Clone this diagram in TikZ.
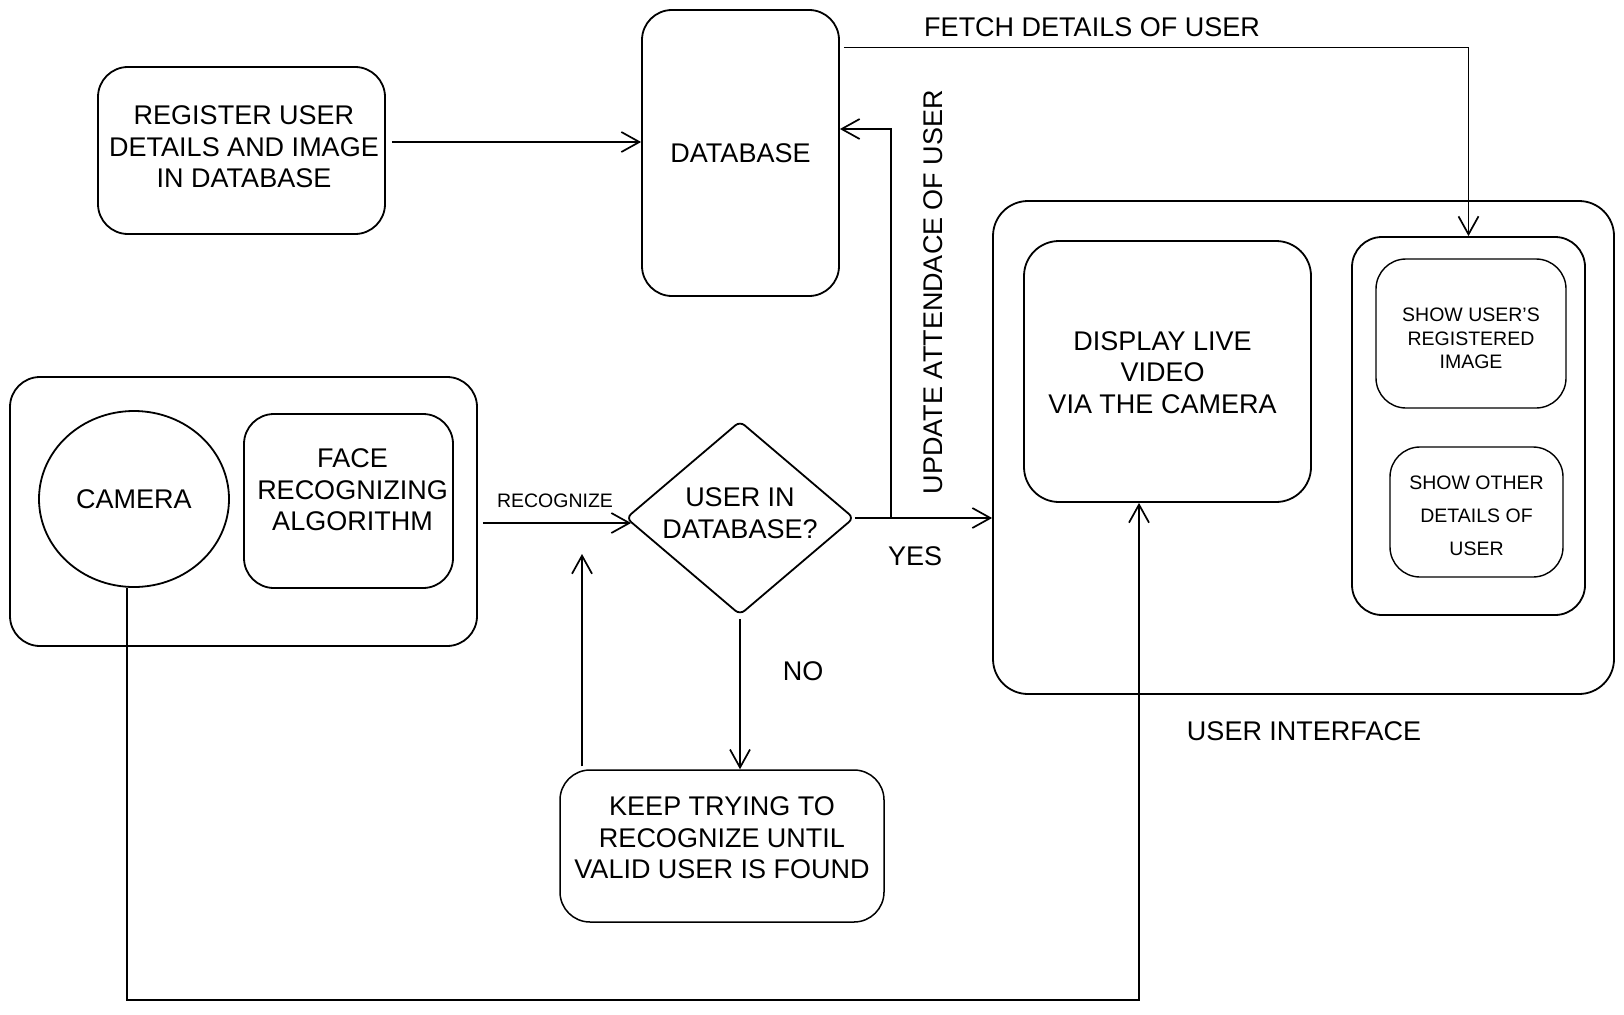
\documentclass[tikz,border=0pt]{standalone}
\usepackage{fontspec}
\setmainfont{Liberation Sans}
\usetikzlibrary{arrows.meta,shapes.geometric}
\begin{document}
\begin{tikzpicture}[x=1pt,y=-1pt,
  big/.style={font=\fontsize{27}{31.5}\selectfont},
  box/.style={draw,rounded corners=30pt,line width=1.8pt,inner sep=0pt,align=center,big},
  smalltxt/.style={font=\fontsize{19.5}{23.3}\selectfont},
  arr/.style={line width=1.7pt,-{Straight Barb[length=18pt,width=20pt,line width=1.7pt]}},
  ln/.style={line width=1.7pt}
]
\useasboundingbox (0,0) rectangle (1624,1014);

% containers
\node[box,minimum width=621pt,minimum height=493pt,rounded corners=35pt] (ui) at (1303.5,447.5) {};
\node[box,minimum width=467pt,minimum height=269pt] (lc) at (243.5,511.5) {};
\node[box,minimum width=233pt,minimum height=378pt] (rc) at (1468.5,426) {};

% boxes
\node[box,minimum width=287pt,minimum height=167pt,
  label={[big,align=center,yshift=3.5pt,xshift=2.5pt]center:{REGISTER USER\\DETAILS AND IMAGE\\IN DATABASE}}] (reg) at (241.5,150.5) {};
\node[box,minimum width=197pt,minimum height=286pt] (db) at (740.5,153) {DATABASE};
\node[box,minimum width=287pt,minimum height=261pt,rounded corners=35pt,
  label={[big,align=center,xshift=-5pt,yshift=-1pt]center:{DISPLAY LIVE\\VIDEO\\VIA THE CAMERA}}] (disp) at (1167.5,371.5) {};
\node[box,line width=1.4pt,minimum width=190pt,minimum height=149pt,
  label={[smalltxt,align=center,yshift=-5pt]center:{SHOW USER'S\\REGISTERED\\IMAGE}}] (img) at (1471,333.5) {};
\node[box,line width=1.4pt,minimum width=173pt,minimum height=130pt,
  label={[font=\fontsize{19.5}{33}\selectfont,align=center,yshift=-4pt]center:{SHOW OTHER\\DETAILS OF\\USER}}] (oth) at (1476.5,512) {};
\node[draw,ellipse,line width=1.8pt,minimum width=190pt,minimum height=176pt,inner sep=0pt,big] (cam) at (134,499) {CAMERA};
\node[box,minimum width=209pt,minimum height=174pt,
  label={[big,align=center,yshift=11pt,xshift=4pt]center:{FACE\\RECOGNIZING\\ALGORITHM}}] (face) at (348.5,501) {};
\node[draw,diamond,line width=1.8pt,minimum width=228pt,minimum height=194pt,inner sep=0pt,rounded corners=6pt,
  label={[big,align=center,yshift=5pt]center:{USER IN\\DATABASE?}}] (dia) at (740,518) {};
\node[box,line width=1.5pt,minimum width=324pt,minimum height=152pt,
  label={[big,align=center,yshift=8.3pt]center:{KEEP TRYING TO\\RECOGNIZE UNTIL\\VALID USER IS FOUND}}] (keep) at (722,846) {};

% labels
\node[big] (lfetch) at (1092,27) {FETCH DETAILS OF USER};
\node[big,rotate=90] (lupd) at (933,292) {UPDATE ATTENDACE OF USER};
\node[big] (lui) at (1304,731) {USER INTERFACE};
\node[font=\fontsize{19.5}{23}\selectfont] (lrec) at (555,501) {RECOGNIZE};
\node[big] (lyes) at (915,556) {YES};
\node[big] (lno) at (803,671) {NO};

% bend points
\coordinate (f1) at (1468.5,47.6);
\coordinate (u1) at (891,518);
\coordinate (u2) at (891,129);
\coordinate (k2) at (582,554);
\coordinate (c1) at (127,1000);
\coordinate (c2) at (1139,1000);
\coordinate (r2) at ([yshift=-5pt,xshift=6pt]dia.west);

% connectors
\draw[arr] ([yshift=8.5pt,xshift=6pt]reg.east) -- ([yshift=8.5pt]reg.east -| db.west);
\draw[arr] ([xshift=4pt]db.east |- f1) -- (f1) -- (rc.north);
\draw[arr] (dia.east) -- (dia.east -| ui.west);
\draw[arr] (u1) -- (u2) -- (u2 -| db.east);
\draw[arr] ([xshift=5pt]lc.east |- r2) -- (r2);
\draw[arr] ([yshift=-3pt]dia.south) -- (dia.south |- keep.north);
\draw[arr,line width=1.4pt] ([yshift=3pt]keep.north -| k2) -- (k2);
\draw[arr,line width=1.4pt] (cam.south -| c1) -- (c1) -- (c2) -- (c2 |- disp.south);
\end{tikzpicture}
\end{document}
